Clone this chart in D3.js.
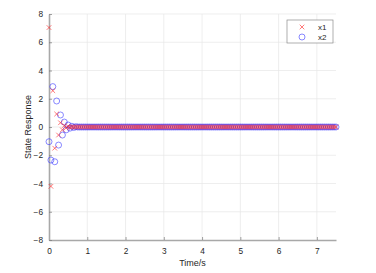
<!DOCTYPE html>
<html>
<head>
<meta charset="utf-8">
<script src="https://cdn.jsdelivr.net/npm/d3@7"></script>
<style>
  body { margin: 0; background: #fff; }
  text { font-family: "Liberation Sans", Arial, sans-serif; fill: #262626; }
</style>
</head>
<body>
<div id="chart"></div>
<script>
// sample step (s)
var dt = 0.05;

// state x1, one value per sample
var x1 = [7.04, -4.2, 2.57, -1.5, 0.92, -0.57, 0.3, -0.2, 0.1, -0.06, 0.03, -0.02, 0.01, 0, 0, 0, 0, 0, 0, 0,
  0, 0, 0, 0, 0, 0, 0, 0, 0, 0, 0, 0, 0, 0, 0, 0, 0, 0, 0, 0,
  0, 0, 0, 0, 0, 0, 0, 0, 0, 0, 0, 0, 0, 0, 0, 0, 0, 0, 0, 0,
  0, 0, 0, 0, 0, 0, 0, 0, 0, 0, 0, 0, 0, 0, 0, 0, 0, 0, 0, 0,
  0, 0, 0, 0, 0, 0, 0, 0, 0, 0, 0, 0, 0, 0, 0, 0, 0, 0, 0, 0,
  0, 0, 0, 0, 0, 0, 0, 0, 0, 0, 0, 0, 0, 0, 0, 0, 0, 0, 0, 0,
  0, 0, 0, 0, 0, 0, 0, 0, 0, 0, 0, 0, 0, 0, 0, 0, 0, 0, 0, 0,
  0, 0, 0, 0, 0, 0, 0, 0, 0, 0, 0];

// state x2
var x2 = [-1.04, -2.34, 2.86, -2.46, 1.84, -1.28, 0.85, -0.57, 0.35, -0.2, 0.14, -0.08, 0.05, -0.03, 0.02, 0, 0, 0, 0, 0,
  0, 0, 0, 0, 0, 0, 0, 0, 0, 0, 0, 0, 0, 0, 0, 0, 0, 0, 0, 0,
  0, 0, 0, 0, 0, 0, 0, 0, 0, 0, 0, 0, 0, 0, 0, 0, 0, 0, 0, 0,
  0, 0, 0, 0, 0, 0, 0, 0, 0, 0, 0, 0, 0, 0, 0, 0, 0, 0, 0, 0,
  0, 0, 0, 0, 0, 0, 0, 0, 0, 0, 0, 0, 0, 0, 0, 0, 0, 0, 0, 0,
  0, 0, 0, 0, 0, 0, 0, 0, 0, 0, 0, 0, 0, 0, 0, 0, 0, 0, 0, 0,
  0, 0, 0, 0, 0, 0, 0, 0, 0, 0, 0, 0, 0, 0, 0, 0, 0, 0, 0, 0,
  0, 0, 0, 0, 0, 0, 0, 0, 0, 0, 0];

var xTicks = [0, 1, 2, 3, 4, 5, 6, 7];
var yTicks = [-8, -6, -4, -2, 0, 2, 4, 6, 8];
var seriesNames = ["x1", "x2"];

var W = 376, H = 273;
var m = {left: 49, right: 40, top: 14, bottom: 33};

var svg = d3.select("#chart").append("svg")
    .attr("width", W).attr("height", H);

var x = d3.scaleLinear().domain([0, 7.5]).range([m.left, W - m.right]);
var y = d3.scaleLinear().domain([-8, 8]).range([H - m.bottom, m.top]);

// grid
svg.append("g").selectAll("line").data(xTicks.slice(1)).enter().append("line")
    .attr("x1", function (d) { return x(d); }).attr("x2", function (d) { return x(d); })
    .attr("y1", y(-8)).attr("y2", y(8))
    .attr("stroke", "#e6e6e6").attr("stroke-width", 0.7);
svg.append("g").selectAll("line").data(yTicks.slice(1)).enter().append("line")
    .attr("x1", x(0)).attr("x2", x(7.5))
    .attr("y1", function (d) { return y(d); }).attr("y2", function (d) { return y(d); })
    .attr("stroke", "#e6e6e6").attr("stroke-width", 0.7);

// axes (ticks inward, like matlab)
var xAxis = svg.append("g").attr("transform", "translate(0," + y(-8) + ")")
    .call(d3.axisBottom(x).tickValues(xTicks).tickSizeInner(-3).tickSizeOuter(0).tickPadding(8));
var yAxis = svg.append("g").attr("transform", "translate(" + x(0) + ",0)")
    .call(d3.axisLeft(y).tickValues(yTicks).tickSizeInner(-3).tickSizeOuter(0).tickPadding(6));
[xAxis, yAxis].forEach(function (g) {
    g.select(".domain").attr("stroke", "#a8a8a8").attr("stroke-width", 1.6);
    g.selectAll(".tick line").attr("stroke", "#7a7a7a").attr("stroke-width", 0.7);
    g.selectAll(".tick text").attr("font-size", 8.3).attr("fill", "#262626")
        .style("font-family", "Liberation Sans, Arial, sans-serif");
});

// axis labels
svg.append("text").attr("x", (x(0) + x(7.5)) / 2).attr("y", 266)
    .attr("text-anchor", "middle").attr("font-size", 9).text("Time/s");
svg.append("text").attr("transform", "translate(31," + y(0) + ") rotate(-90)")
    .attr("text-anchor", "middle").attr("font-size", 9).text("State Response");

var crossPath = "M-2.3,-2.3L2.3,2.3M-2.3,2.3L2.3,-2.3";

// x2 markers
svg.append("g").selectAll("circle").data(x2).enter().append("circle")
    .attr("cx", function (d, i) { return x(i * dt); })
    .attr("cy", function (d) { return y(d); })
    .attr("r", 3)
    .attr("fill", "none").attr("stroke", "#3a3aff").attr("stroke-width", 0.6);

// x1 markers
svg.append("g").selectAll("path").data(x1).enter().append("path")
    .attr("d", crossPath)
    .attr("transform", function (d, i) { return "translate(" + x(i * dt) + "," + y(d) + ")"; })
    .attr("fill", "none").attr("stroke", "#ff2020").attr("stroke-width", 0.6);

// legend
var lg = svg.append("g").attr("transform", "translate(287,20)");
lg.append("rect").attr("width", 46).attr("height", 23)
    .attr("fill", "#fff").attr("stroke", "#8c8c8c").attr("stroke-width", 0.7);
lg.append("path").attr("d", crossPath).attr("transform", "translate(15,7)")
    .attr("fill", "none").attr("stroke", "#ff2020").attr("stroke-width", 0.6);
lg.append("circle").attr("cx", 15).attr("cy", 17).attr("r", 3)
    .attr("fill", "none").attr("stroke", "#3a3aff").attr("stroke-width", 0.6);
lg.selectAll("text.lab").data(seriesNames).enter().append("text")
    .attr("class", "lab")
    .attr("x", 31).attr("y", function (d, i) { return 9.8 + i * 10; })
    .attr("font-size", 8).text(function (d) { return d; });
</script>
</body>
</html>
